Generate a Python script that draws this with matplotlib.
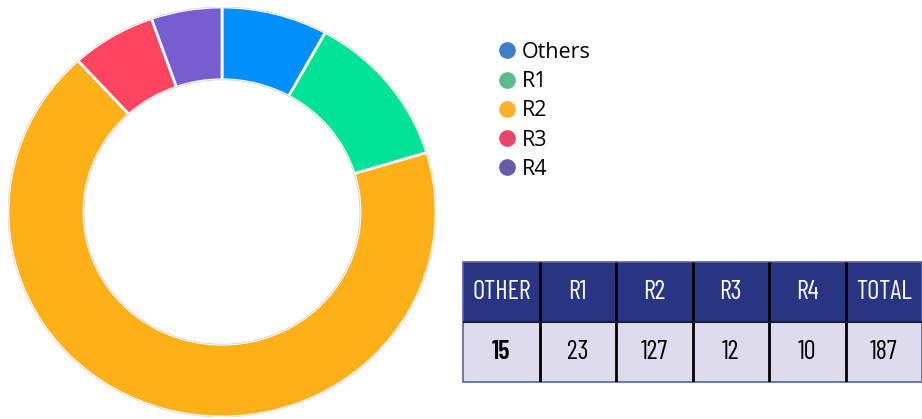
import matplotlib.pyplot as plt
from matplotlib.lines import Line2D
from matplotlib.patches import Rectangle, Ellipse

labels = ["Others", "R1", "R2", "R3", "R4"]
values = [15, 23, 127, 12, 10]
slice_colors = ["#008FFB", "#00E396", "#FEB019", "#FF4560", "#775DD0"]
legend_colors = ["#3d80c8", "#5cbb8a", "#fbb12a", "#e8456b", "#6a5ba8"]

table_headers = ["OTHER", "R1", "R2", "R3", "R4", "TOTAL"]
table_values = [15, 23, 127, 12, 10, 187]

W, H = 922, 419
fig = plt.figure(figsize=(W / 100, H / 100), dpi=100)


def px_axes(x0, y0, x1, y1):
    # pixel box (top-left origin) -> figure axes
    return fig.add_axes([x0 / W, 1 - y1 / H, (x1 - x0) / W, (y1 - y0) / H])


# donut (slightly wider than tall, like the source)
cx, cy, rx, ry = 222, 212, 214, 205
ax = px_axes(cx - rx, cy - ry, cx + rx, cy + ry)
ax.pie(values, colors=slice_colors, startangle=90, counterclock=False,
       radius=1, wedgeprops=dict(width=0.355, edgecolor="white", linewidth=2))
ax.add_patch(Ellipse((0, 0), 2.0, 2.0, fill=False, edgecolor="#d8d8d8", lw=0.6))
ax.add_patch(Ellipse((0, 0), 1.29, 1.29, fill=False, edgecolor="#d0d0d0", lw=0.6))
ax.set_xlim(-1, 1)
ax.set_ylim(-1, 1)
ax.set_aspect("auto")
ax.axis("off")

# legend
handles = [Line2D([], [], marker="o", ls="none", markersize=11,
                  markerfacecolor=c, markeredgecolor=c) for c in legend_colors]
fig.legend(handles, labels, loc="upper left",
           bbox_to_anchor=(501 / W, 1 - 42 / H), frameon=False,
           prop={"family": ["Open Sans", "DejaVu Sans"], "size": 15.5},
           handlelength=0.6, handletextpad=0.37, labelspacing=0.38,
           borderpad=0, borderaxespad=0)

# table
tx0, ty0, tx1, ty1 = 463, 262, 922, 382
tax = px_axes(tx0, ty0, tx1, ty1)
n = len(table_headers)
tax.set_xlim(0, n)
tax.set_ylim(0, 2)
tax.axis("off")
cond = ["Barlow Condensed", "DejaVu Sans"]
for i, (h, v) in enumerate(zip(table_headers, table_values)):
    tax.add_patch(Rectangle((i, 1), 1, 1, facecolor="#283583", edgecolor="none"))
    tax.add_patch(Rectangle((i, 0), 1, 1, facecolor="#dedbec", edgecolor="none"))
    tax.text(i + 0.5, 1.5, h, ha="center", va="center", color="white",
             fontsize=19, family=cond)
    tax.text(i + 0.5, 0.5, str(v), ha="center", va="center", color="black",
             fontsize=19, family=cond,
             fontweight="semibold" if i == 0 else "normal")
    if i > 0:
        tax.plot([i, i], [0, 2], color="black", lw=2, solid_capstyle="butt")
tax.plot([0, n], [1, 1], color="#1a1a3a", lw=1.5)
tax.add_patch(Rectangle((0, 0), n, 2, fill=False, edgecolor="#5863a8", lw=1.2,
                        clip_on=False))

fig.savefig("out.png", dpi=100)
